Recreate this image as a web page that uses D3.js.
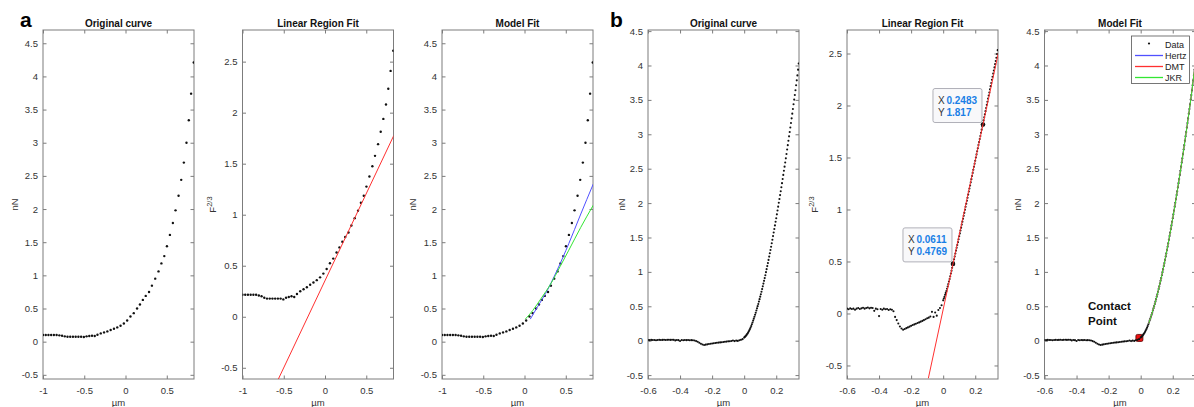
<!DOCTYPE html>
<html><head><meta charset="utf-8">
<script src="https://cdn.jsdelivr.net/npm/d3@7"></script>
<style>
body{margin:0;background:#fff}
svg{display:block}
text{font-family:"Liberation Sans",Arial,Helvetica,sans-serif}
</style>
</head><body>
<svg id="c" width="1194" height="407"></svg>
<script>
// ---------------- DATA ----------------
// Panel a: force curve (indentation µm, force nN)
const aX = [-1.000,-0.967,-0.934,-0.901,-0.868,-0.835,-0.802,-0.769,-0.736,-0.703,-0.670,-0.637,-0.604,-0.571,-0.538,-0.505,-0.472,-0.439,-0.406,-0.373,
  -0.34,-0.30,-0.26,-0.22,-0.18,-0.14,-0.10,-0.06,-0.02,
  0.02,0.06,0.10,0.14,0.175,0.21,0.245,0.285,0.32,0.36,0.40,0.435,0.47,
  0.502,0.538,0.574,0.606,0.643,0.675,0.707,0.739,0.767,0.795,0.827];
const aY = [0.10,0.10,0.10,0.10,0.10,0.10,0.095,0.09,0.08,0.075,0.075,0.075,0.075,0.075,0.075,0.07,0.08,0.085,0.09,0.085,
  0.105,0.125,0.14,0.155,0.175,0.195,0.215,0.24,0.275,
  0.32,0.38,0.43,0.50,0.56,0.63,0.69,0.75,0.845,0.95,1.06,1.18,1.29,
  1.44,1.61,1.79,1.98,2.20,2.44,2.70,3.00,3.34,3.74,4.21];
// Panel a: linear region fit (F^2/3)
const aLinX = [-0.565, 0.834];
const aLinY = [-0.610, 1.777];
// Panel a: model fits (nN)
const aHertzX = [0.07,0.15,0.257,0.396,0.537,0.677,0.834];
const aHertzY = [0.34,0.51,0.73,1.08,1.48,1.91,2.38];
const aJkrX = [0.01,0.10,0.20,0.317,0.43,0.537,0.68,0.834];
const aJkrY = [0.34,0.47,0.65,0.87,1.13,1.38,1.72,2.06];

// Panel b: force curve (indentation µm, force nN)
const bX = [-0.60,-0.59,-0.58,-0.57,-0.56,-0.55,-0.54,-0.53,-0.52,-0.51,-0.50,-0.49,-0.48,-0.47,-0.46,-0.45,-0.44,-0.43,-0.42,-0.41,
  -0.40,-0.39,-0.38,-0.37,-0.36,-0.35,-0.34,-0.33,-0.32,-0.31,-0.30,-0.29,-0.28,-0.27,-0.26,-0.25,-0.24,-0.23,-0.22,-0.21,
  -0.20,-0.19,-0.18,-0.17,-0.16,-0.15,-0.14,-0.13,-0.12,-0.11,-0.10,-0.09,-0.08,-0.07,-0.06,-0.05,-0.04,-0.03,-0.02,-0.01,
  0.000,0.004,0.008,0.012,0.016,0.020,0.024,0.028,0.032,0.036,0.040,0.044,0.048,0.052,0.056,0.060,0.064,0.068,0.072,0.076,
  0.080,0.084,0.088,0.092,0.096,0.100,0.104,0.108,0.112,0.116,0.120,0.124,0.128,0.132,0.136,0.140,0.144,0.148,0.152,0.156,
  0.160,0.164,0.168,0.172,0.176,0.180,0.184,0.188,0.192,0.196,0.200,0.204,0.208,0.212,0.216,0.220,0.224,0.228,0.232,0.236,
  0.240,0.244,0.248,0.252,0.256,0.260,0.264,0.268,0.272,0.276,0.280,0.284,0.288,0.292,0.296,0.300,0.304,0.308,0.312,0.316,
  0.320,0.324,0.328,0.332,0.336,0.340];
const bY = [0.010,0.008,0.011,0.009,0.010,0.007,0.010,0.012,0.009,0.011,0.013,0.010,0.012,0.014,0.011,0.013,0.012,0.004,0.010,0.008,
  -0.004,0.009,0.007,0.010,0.008,0.009,0.006,0.008,0.007,0.003,-0.006,-0.016,-0.030,-0.044,-0.055,-0.062,-0.058,-0.053,-0.049,-0.045,
  -0.041,-0.037,-0.034,-0.031,-0.028,-0.025,-0.022,-0.019,-0.016,-0.013,-0.010,-0.008,-0.005,0.002,-0.006,0.001,-0.003,0.006,0.012,0.022,
  0.045,0.055,0.064,0.076,0.088,0.100,0.116,0.132,0.150,0.170,0.190,0.214,0.238,0.264,0.292,0.320,0.348,0.376,0.406,0.438,
  0.470,0.502,0.534,0.568,0.604,0.640,0.676,0.712,0.750,0.790,0.830,0.870,0.910,0.952,0.996,1.040,1.084,1.128,1.174,1.222,
  1.270,1.318,1.366,1.416,1.468,1.520,1.572,1.624,1.676,1.728,1.780,1.836,1.892,1.948,2.004,2.060,2.116,2.172,2.230,2.290,
  2.350,2.410,2.470,2.530,2.590,2.650,2.714,2.778,2.842,2.906,2.970,3.034,3.098,3.164,3.232,3.300,3.368,3.436,3.504,3.572,
  3.640,3.712,3.784,3.856,3.940,4.030];
// Panel b: linear region fit (F^2/3)
const bLinX = [-0.0925, 0.345];
const bLinY = [-0.623, 2.510];
// Panel b: data tips (x, F^2/3)
const tipX = [0.2483, 0.0611];
const tipY = [1.817, 0.4769];
const tipLabelX = ["0.2483", "0.0611"];
const tipLabelY = ["1.817", "0.4769"];
// Panel b: model fits (nN)
const bFitX = [0.05,0.08,0.11,0.14,0.17,0.20,0.23,0.26,0.29,0.32,0.34];
const bHertzY = [0.25,0.47,0.73,1.04,1.39,1.78,2.20,2.65,3.13,3.64,4.03];
const bDmtY = [0.25,0.47,0.73,1.04,1.39,1.78,2.20,2.65,3.13,3.64,4.03];
const bJkrY = [0.25,0.47,0.73,1.04,1.39,1.78,2.20,2.65,3.13,3.64,4.03];
// Contact point
const contactX = [-0.008];
const contactY = [0.04];
// Legend
const legendNames = ["Data","Hertz","DMT","JKR"];

// Ticks
const aXTicks = [-1,-0.5,0,0.5];
const bXTicks = [-0.6,-0.4,-0.2,0,0.2];
const nNTicks = [-0.5,0,0.5,1,1.5,2,2.5,3,3.5,4,4.5];
const fTicks = [-0.5,0,0.5,1,1.5,2,2.5];

// ---------------- DRAWING ----------------
const COL = {blue:"#5050ff", red:"#ff3030", green:"#33e633", axis:"#7c7c7c", tick:"#333"};
const svg = d3.select("#c");
const TOP = 30, BOT = 379, PW = 151;
const f23 = v => Math.sign(v) * Math.pow(Math.abs(v), 2/3);
const fmt = d => String(+d.toFixed(2));

function makePanel(cfg) {
  const x = d3.scaleLinear().domain(cfg.xDom).range([cfg.left, cfg.left + PW]);
  const y = d3.scaleLinear().domain(cfg.yDom).range([BOT, TOP]);
  const g = svg.append("g");
  const cid = "clip" + cfg.id;
  svg.append("clipPath").attr("id", cid).append("rect")
    .attr("x", cfg.left).attr("y", TOP).attr("width", PW).attr("height", BOT - TOP);

  const styleAxis = sel => {
    sel.select(".domain").remove();
    sel.selectAll(".tick line").attr("stroke", COL.axis);
    sel.selectAll(".tick text").attr("fill", COL.tick).attr("font-size", 9.5);
  };
  g.append("g").attr("transform", `translate(0,${BOT})`)
    .call(d3.axisBottom(x).tickValues(cfg.xTicks).tickFormat(fmt).tickSizeInner(-3.5).tickSizeOuter(0).tickPadding(8))
    .call(styleAxis);
  g.append("g").attr("transform", `translate(0,${TOP})`)
    .call(d3.axisTop(x).tickValues(cfg.xTicks).tickFormat("").tickSizeInner(-3.5).tickSizeOuter(0))
    .call(styleAxis);
  g.append("g").attr("transform", `translate(${cfg.left},0)`)
    .call(d3.axisLeft(y).tickValues(cfg.yTicks).tickFormat(fmt).tickSizeInner(-3.5).tickSizeOuter(0).tickPadding(5))
    .call(styleAxis);
  g.append("g").attr("transform", `translate(${cfg.left + PW},0)`)
    .call(d3.axisRight(y).tickValues(cfg.yTicks).tickFormat("").tickSizeInner(-3.5).tickSizeOuter(0))
    .call(styleAxis);
  g.append("rect").attr("x", cfg.left).attr("y", TOP).attr("width", PW).attr("height", BOT - TOP)
    .attr("fill", "none").attr("stroke", COL.axis).attr("stroke-width", 1);

  // title
  g.append("text").attr("x", cfg.left + PW / 2).attr("y", 26.5).attr("text-anchor", "middle")
    .attr("font-size", 10).attr("font-weight", "bold").attr("fill", "#111").text(cfg.title);
  // x label
  g.append("text").attr("x", cfg.left + PW / 2).attr("y", 406).attr("text-anchor", "middle")
    .attr("font-size", 9.5).attr("fill", "#333").text("µm");
  // y label
  const yl = g.append("text").attr("transform", `translate(${cfg.ylx},${(TOP + BOT) / 2}) rotate(-90)`)
    .attr("text-anchor", "middle").attr("dy", "0.35em").attr("font-size", 9.5).attr("fill", "#333");
  if (cfg.ylabel === "F23") {
    yl.append("tspan").text("F");
    yl.append("tspan").attr("font-size", 7.5).attr("dy", "-0.55em").text("2/3");
  } else yl.text(cfg.ylabel);

  const plot = svg.append("g").attr("clip-path", `url(#${cid})`);
  return {x, y, g, plot};
}

function dots(p, xs, ys, r) {
  p.plot.append("g").selectAll("circle").data(xs.map((v, i) => [v, ys[i]])).join("circle")
    .attr("cx", d => p.x(d[0])).attr("cy", d => p.y(d[1])).attr("r", r).attr("fill", "#111");
}
function line(p, xs, ys, color, curve) {
  p.plot.append("path").datum(xs.map((v, i) => [v, ys[i]]))
    .attr("fill", "none").attr("stroke", color).attr("stroke-width", 1)
    .attr("d", d3.line().x(d => p.x(d[0])).y(d => p.y(d[1])).curve(curve || d3.curveLinear));
}

// Panel letters
svg.append("text").attr("x", 20).attr("y", 27).attr("font-size", 21).attr("font-weight", "bold").text("a");
svg.append("text").attr("x", 610).attr("y", 27).attr("font-size", 21).attr("font-weight", "bold").text("b");

// ---- a ----
const p1 = makePanel({id:1, left:43, xDom:[-1,0.83], yDom:[-0.563,4.70], xTicks:aXTicks, yTicks:nNTicks, title:"Original curve", ylabel:"nN", ylx:15});
dots(p1, aX, aY, 1.2);

const p2 = makePanel({id:2, left:242.5, xDom:[-1,0.83], yDom:[-0.61,2.81], xTicks:aXTicks, yTicks:fTicks, title:"Linear Region Fit", ylabel:"F23", ylx:213});
dots(p2, aX, aY.map(f23), 1.2);
line(p2, aLinX, aLinY, COL.red);

const p3 = makePanel({id:3, left:442, xDom:[-1,0.83], yDom:[-0.563,4.70], xTicks:aXTicks, yTicks:nNTicks, title:"Model Fit", ylabel:"nN", ylx:413});
dots(p3, aX, aY, 1.2);
line(p3, aHertzX, aHertzY, COL.blue, d3.curveMonotoneX);
line(p3, aJkrX, aJkrY, COL.green, d3.curveMonotoneX);

// ---- b ----
const p4 = makePanel({id:4, left:648, xDom:[-0.6,0.342], yDom:[-0.557,4.516], xTicks:bXTicks, yTicks:nNTicks, title:"Original curve", ylabel:"nN", ylx:622});
dots(p4, bX, bY, 1.05);

const p5 = makePanel({id:5, left:847, xDom:[-0.6,0.342], yDom:[-0.63,2.726], xTicks:bXTicks, yTicks:fTicks, title:"Linear Region Fit", ylabel:"F23", ylx:815});
dots(p5, bX, bY.map(f23), 1.05);
line(p5, bLinX, bLinY, COL.red);
// data tips
tipX.forEach((tx, i) => {
  const px = p5.x(tx), py = p5.y(tipY[i]);
  p5.g.append("circle").attr("cx", px).attr("cy", py).attr("r", 2.3).attr("fill", "#111");
  const bx = px - 50, by = py - 36;
  p5.g.append("rect").attr("x", bx).attr("y", by).attr("width", 49).attr("height", 34).attr("rx", 2)
    .attr("fill", "#f8f8fa").attr("stroke", "#b0b0b8").attr("stroke-width", 1);
  const t1 = p5.g.append("text").attr("x", bx + 5).attr("y", by + 15).attr("font-size", 10).attr("fill", "#333");
  t1.append("tspan").text("X ");
  t1.append("tspan").attr("x", bx + 13.5).attr("font-weight", "bold").attr("fill", "#1a7fe6").text(tipLabelX[i]);
  const t2 = p5.g.append("text").attr("x", bx + 5).attr("y", by + 27).attr("font-size", 10).attr("fill", "#333");
  t2.append("tspan").text("Y ");
  t2.append("tspan").attr("x", bx + 13.5).attr("font-weight", "bold").attr("fill", "#1a7fe6").text(tipLabelY[i]);
});

const p6 = makePanel({id:6, left:1044.5, xDom:[-0.6,0.342], yDom:[-0.557,4.516], xTicks:bXTicks, yTicks:nNTicks, title:"Model Fit", ylabel:"nN", ylx:1018});
dots(p6, bX, bY, 1.05);
line(p6, bFitX, bHertzY, COL.blue, d3.curveMonotoneX);
line(p6, bFitX, bDmtY, COL.red, d3.curveMonotoneX);
line(p6, bFitX, bJkrY, COL.green, d3.curveMonotoneX);
p6.g.append("rect").attr("x", p6.x(contactX[0]) - 3.5).attr("y", p6.y(contactY[0]) - 3.5).attr("width", 7).attr("height", 7).attr("rx", 1.5)
  .attr("fill", "#ee1111").attr("stroke", "#500").attr("stroke-width", 0.8);
const ct = p6.g.append("text").attr("font-size", 11.5).attr("font-weight", "bold").attr("fill", "#111");
ct.append("tspan").attr("x", 1088).attr("y", 310).text("Contact");
ct.append("tspan").attr("x", 1088).attr("y", 324.5).text("Point");
// legend
const lgX = 1131.5, lgY = 36;
p6.g.append("rect").attr("x", lgX).attr("y", lgY).attr("width", 58).attr("height", 47.5)
  .attr("fill", "#fff").attr("stroke", "#555").attr("stroke-width", 0.8);
const lgCol = [null, COL.blue, COL.red, COL.green];
legendNames.forEach((n, i) => {
  const yy = lgY + 8.5 + i * 11;
  if (i === 0) p6.g.append("circle").attr("cx", lgX + 17.5).attr("cy", yy - 1).attr("r", 1.1).attr("fill", "#111");
  else p6.g.append("line").attr("x1", lgX + 3.5).attr("x2", lgX + 31.5).attr("y1", yy).attr("y2", yy)
    .attr("stroke", lgCol[i]).attr("stroke-width", 1.3);
  p6.g.append("text").attr("x", lgX + 33.5).attr("y", yy + 3).attr("font-size", 9).attr("fill", "#222").text(n);
});
</script>
</body></html>
